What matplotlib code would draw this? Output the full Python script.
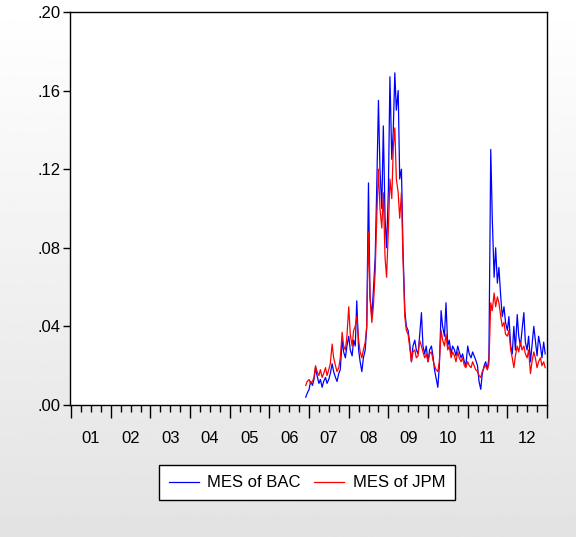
import matplotlib.pyplot as plt
import matplotlib.transforms as mtransforms
import numpy as np
import pandas as pd

plt.rcParams['font.family'] = ['Liberation Sans Narrow', 'Liberation Sans', 'DejaVu Sans']

# semi-monthly observations, Dec 2006 - Dec 2012 (values in thousandths)
dates = pd.date_range('2006-12-01', '2012-12-31', freq='SMS')

mes_bac = [
    4, 6,
    # 2007
    8, 12, 10, 13, 19, 15, 11, 13, 9, 12, 14, 11,
    13, 16, 21, 17, 14, 12, 16, 18, 33, 27, 24, 30,
    # 2008
    35, 28, 25, 33, 30, 53, 28, 22, 17, 24, 28, 40,
    113, 55, 45, 58, 75, 110, 155, 120, 100, 142, 95, 80,
    # 2009
    110, 167, 125, 140, 169, 150, 160, 115, 120, 80, 48, 40,
    38, 32, 22, 30, 33, 28, 26, 35, 47, 30, 26, 30,
    # 2010
    22, 28, 30, 25, 18, 14, 9, 20, 48, 40, 35, 52,
    30, 33, 26, 30, 28, 25, 30, 27, 24, 26, 22, 20,
    # 2011
    30, 26, 24, 27, 25, 23, 20, 12, 8, 16, 20, 22,
    18, 24, 130, 95, 65, 80, 62, 70, 55, 45, 50, 42,
    # 2012
    38, 45, 30, 26, 40, 28, 46, 35, 30, 38, 47, 32,
    28, 35, 22, 30, 40, 33, 25, 35, 30, 24, 32, 26,
]

mes_jpm = [
    10, 12,
    # 2007
    13, 11, 12, 14, 20, 17, 15, 18, 14, 16, 19, 15,
    18, 21, 31, 24, 20, 17, 19, 24, 37, 30, 28, 35,
    # 2008
    50, 36, 30, 38, 40, 45, 33, 27, 24, 28, 32, 40,
    88, 55, 42, 50, 68, 95, 120, 100, 90, 108, 75, 65,
    # 2009
    90, 115, 105, 131, 141, 115, 108, 95, 108, 75, 45, 38,
    36, 30, 22, 27, 28, 24, 25, 33, 30, 27, 24, 26,
    # 2010
    22, 26, 27, 23, 20, 18, 17, 22, 38, 33, 30, 36,
    28, 30, 24, 27, 25, 22, 27, 24, 22, 24, 20, 19,
    # 2011
    22, 20, 19, 22, 20, 18, 17, 15, 14, 17, 19, 20,
    18, 21, 52, 48, 57, 50, 55, 52, 45, 40, 42, 36,
    # 2012
    35, 38, 28, 24, 19, 25, 30, 27, 32, 28, 30, 26,
    24, 28, 16, 22, 27, 24, 19, 22, 24, 20, 22, 19,
]

years = list(range(2001, 2013))
year_labels = ['%02d' % (y % 100) for y in years]
y_ticks = [0.00, 0.04, 0.08, 0.12, 0.16, 0.20]


def frac_year(d):
    d = pd.Timestamp(d)
    start = pd.Timestamp(year=d.year, month=1, day=1)
    end = pd.Timestamp(year=d.year + 1, month=1, day=1)
    return d.year + (d - start) / (end - start)


x = np.array([frac_year(d) for d in dates])
bac = np.array(mes_bac) / 1000.0
jpm = np.array(mes_jpm) / 1000.0

fig = plt.figure(figsize=(5.76, 5.37), dpi=100)

# light grey backdrop fading to white at the top
bg = fig.add_axes([0, 0, 1, 1], zorder=-10)
grad = np.linspace(0.89, 1.0, 256).reshape(-1, 1)
bg.imshow(grad, cmap='gray', vmin=0, vmax=1, aspect='auto', extent=[0, 1, 0, 1], origin='lower')
bg.axis('off')

ax = fig.add_axes([0.1215, 0.2458, 0.8282, 0.732])
ax.set_facecolor('white')
ax.plot(x, bac, color='#0000ff', lw=0.9, label='MES of BAC')
ax.plot(x, jpm, color='#ff0000', lw=0.9, label='MES of JPM')

ax.set_xlim(2000.97, 2013.0)
ax.set_ylim(0, 0.20)

# EViews style: no leading zero on the value axis
ax.set_yticks(y_ticks)
ax.set_yticklabels([('%.2f' % v)[1:] for v in y_ticks])

ax.set_xticks(years + [2013])
ax.set_xticklabels([])
ax.set_xticks([y + q / 4 for y in years for q in (1, 2, 3)], minor=True)
ax.tick_params(axis='x', which='major', direction='out', length=9, width=1)
ax.tick_params(axis='x', which='minor', direction='out', length=5, width=1)
ax.tick_params(axis='y', which='major', direction='out', length=5, width=1,
               labelsize=12, pad=2, colors='black')

# year labels sit in the middle of each year
trans = mtransforms.blended_transform_factory(ax.transData, ax.transAxes)
for y, lab in zip(years, year_labels):
    ax.text(y + 0.5, -0.085, lab, transform=trans, ha='center', va='center', fontsize=12)

for sp in ax.spines.values():
    sp.set_linewidth(1.0)
    sp.set_color('black')

leg = fig.legend(loc='center', bbox_to_anchor=(0.533, 0.1006), ncol=2, fontsize=12,
                 frameon=True, fancybox=False, handlelength=1.8, columnspacing=0.8,
                 handletextpad=0.5, borderpad=0.6)
leg.get_frame().set_edgecolor('black')
leg.get_frame().set_linewidth(1.0)
leg.get_frame().set_facecolor('white')
leg.get_frame().set_alpha(1.0)

fig.savefig('out.png', dpi=100)
